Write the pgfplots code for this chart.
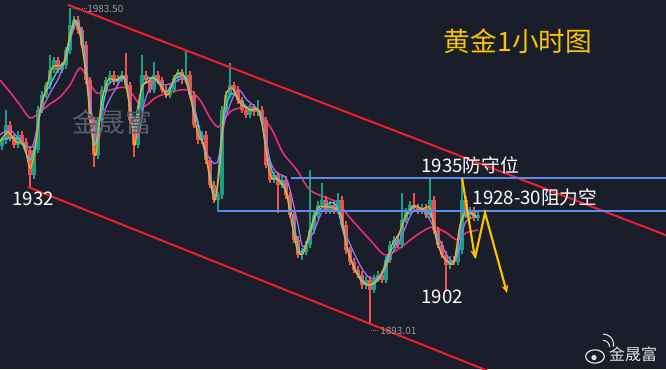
\documentclass[border=0pt]{standalone}
\usepackage{pgfplots}
\pgfplotsset{compat=1.18}
\usepackage{pgfplotstable}
\usepackage{fontspec}
\setmainfont{Noto Sans CJK SC}
\usetikzlibrary{arrows.meta}
\definecolor{bg}{RGB}{26,30,42}
\definecolor{cg}{RGB}{22,160,133}
\definecolor{cr}{RGB}{235,80,85}
\definecolor{maO}{RGB}{245,166,35}
\definecolor{maC}{RGB}{40,205,232}
\definecolor{maP}{RGB}{160,110,230}
\definecolor{maK}{RGB}{235,45,120}
\definecolor{chan}{RGB}{240,30,45}
\definecolor{lvl}{RGB}{90,140,240}
\definecolor{yel}{RGB}{250,195,0}
\definecolor{wm}{RGB}{88,92,102}

\pgfplotstableread{
x o h l c
2 1944.0 1946.8 1943.0 1945.8
6 1945.8 1954.4 1944.8 1950.1
18 1944.4 1948.3 1943.4 1947.3
34 1935.8 1944.0 1934.8 1943.0
38 1943.0 1955.4 1942.0 1954.4
42 1954.4 1959.7 1953.4 1958.7
46 1958.7 1962.5 1957.7 1961.5
50 1961.5 1970.1 1960.5 1965.8
54 1965.8 1969.6 1964.8 1968.6
62 1965.8 1968.2 1964.8 1967.2
66 1967.2 1972.5 1966.2 1971.5
70 1971.5 1983.5 1970.5 1978.6
74 1978.6 1981.1 1977.6 1980.1
98 1941.5 1952.5 1940.5 1951.5
102 1951.5 1961.1 1950.5 1960.1
106 1960.1 1963.9 1959.1 1962.9
110 1962.9 1965.4 1961.9 1964.4
118 1962.4 1964.5 1961.4 1963.5
122 1963.5 1965.4 1962.5 1964.4
138 1944.4 1955.4 1943.4 1954.4
142 1954.4 1970.1 1953.4 1964.4
154 1960.1 1968.1 1959.1 1964.4
170 1958.7 1961.1 1957.7 1960.1
174 1960.1 1964.5 1959.1 1963.5
178 1963.5 1966.2 1962.5 1965.2
186 1962.9 1971.5 1961.9 1964.4
202 1945.8 1948.3 1944.8 1947.3
218 1928.7 1931.1 1925.3 1930.1
222 1930.1 1955.4 1929.1 1954.4
226 1954.4 1959.7 1953.4 1958.7
230 1958.7 1967.8 1957.7 1961.5
250 1953.0 1956.0 1952.0 1955.0
258 1953.8 1957.2 1952.8 1954.4
274 1934.4 1936.8 1933.4 1935.8
282 1933.0 1935.4 1932.0 1934.4
302 1913.0 1914.9 1911.6 1913.9
306 1913.9 1916.9 1912.9 1915.9
310 1915.9 1937.2 1914.9 1920.1
314 1920.1 1925.4 1919.1 1924.4
318 1924.4 1928.3 1923.4 1927.3
322 1927.3 1933.6 1926.3 1928.7
330 1925.8 1928.3 1924.8 1927.3
338 1925.8 1930.7 1924.8 1928.7
366 1904.4 1906.9 1903.4 1905.9
374 1903.0 1907.4 1902.0 1906.4
378 1906.4 1908.3 1905.4 1907.3
386 1905.9 1912.6 1904.9 1911.6
390 1911.6 1916.9 1910.6 1915.9
394 1915.9 1918.3 1914.9 1917.3
402 1915.9 1930.7 1914.9 1923.0
406 1923.0 1926.3 1922.0 1925.3
410 1925.3 1928.3 1924.3 1927.3
422 1925.8 1927.4 1924.8 1926.4
430 1924.4 1935.0 1923.4 1928.7
450 1910.1 1912.6 1909.1 1911.6
458 1911.0 1915.4 1910.0 1914.4
462 1914.4 1935.0 1913.4 1928.7
470 1924.4 1926.8 1923.4 1925.8
478 1923.6 1925.4 1922.6 1924.4
}\up

\pgfplotstableread{
x o h l c
10 1950.1 1951.1 1945.4 1946.4
14 1946.4 1947.4 1943.4 1944.4
22 1947.3 1948.3 1944.3 1945.3
26 1945.3 1946.3 1942.0 1943.0
30 1943.0 1944.0 1932.4 1935.8
58 1968.6 1969.6 1964.8 1965.8
78 1980.1 1981.1 1976.2 1977.2
82 1977.2 1978.2 1972.0 1973.0
86 1973.0 1974.0 1961.9 1962.9
90 1962.9 1963.9 1950.5 1951.5
94 1951.5 1952.5 1938.1 1941.5
114 1964.4 1965.4 1961.4 1962.4
126 1964.4 1970.7 1960.5 1961.5
130 1961.5 1962.5 1950.5 1951.5
134 1951.5 1952.5 1941.0 1944.4
146 1964.4 1965.4 1961.9 1962.9
150 1962.9 1963.9 1959.1 1960.1
158 1964.4 1965.4 1961.9 1962.9
162 1962.9 1963.9 1959.1 1960.1
166 1960.1 1961.1 1957.7 1958.7
182 1965.2 1966.2 1961.9 1962.9
190 1964.4 1965.4 1957.7 1958.7
194 1958.7 1959.7 1949.1 1950.1
198 1950.1 1951.1 1944.8 1945.8
206 1947.3 1948.3 1939.1 1940.1
210 1940.1 1941.1 1932.0 1933.0
214 1933.0 1934.0 1927.7 1928.7
234 1961.5 1962.5 1959.1 1960.1
238 1960.1 1961.1 1956.2 1957.2
242 1957.2 1958.2 1953.4 1954.4
246 1954.4 1955.4 1952.0 1953.0
254 1955.0 1956.0 1952.8 1953.8
262 1954.4 1955.4 1950.5 1951.5
266 1951.5 1952.5 1937.7 1938.7
270 1938.7 1939.7 1933.4 1934.4
278 1935.8 1936.8 1925.0 1933.0
286 1934.4 1935.4 1929.1 1930.1
290 1930.1 1931.1 1923.4 1924.4
294 1924.4 1925.4 1916.3 1917.3
298 1917.3 1918.3 1912.0 1913.0
326 1928.7 1929.7 1924.8 1925.8
334 1927.3 1928.3 1924.8 1925.8
342 1928.7 1929.7 1920.6 1921.6
346 1921.6 1922.6 1913.4 1914.4
350 1914.4 1915.4 1910.0 1911.0
354 1911.0 1912.0 1907.7 1908.7
358 1908.7 1909.7 1906.3 1907.3
362 1907.3 1908.3 1903.4 1904.4
370 1905.9 1906.9 1893.0 1903.0
382 1907.3 1908.3 1904.9 1905.9
398 1917.3 1918.3 1914.9 1915.9
414 1927.3 1930.7 1925.4 1926.4
418 1926.4 1927.4 1924.8 1925.8
426 1926.4 1927.4 1923.4 1924.4
434 1928.7 1929.7 1919.1 1920.1
438 1920.1 1921.1 1914.9 1915.9
442 1915.9 1916.9 1912.0 1913.0
446 1913.0 1914.0 1903.0 1910.1
454 1911.6 1912.6 1910.0 1911.0
466 1928.7 1929.7 1923.4 1924.4
474 1925.8 1926.8 1922.6 1923.6
}\dn

\begin{document}
\begin{tikzpicture}
\fill[bg] (0,0) rectangle (499.5pt,276.75pt);
\begin{axis}[
  at={(0,0)}, anchor=south west,
  width=499.5pt, height=276.75pt, scale only axis,
  xmin=0, xmax=666, ymin=1880.43, ymax=1985.78,
  axis lines=none, ticks=none,
  axis background/.style={fill=bg},
  clip=true,
]
% pink long MA
\addplot[maK, line width=1.2pt, smooth, forget plot] coordinates {
(0,1962.9)(10,1959.5)(20,1955.8)(30,1952.1)(40,1953.8)(50,1956.1)(60,1958.1)
(70,1961.5)(80,1966.4)(88,1962.9)(97,1959.2)(110,1960.1)(127,1960.7)(142,1955.3)
(155,1957.8)(170,1959.5)(188,1960.1)(200,1957.2)(210,1952.1)(218,1949.5)(225,1952.1)
(233,1954.4)(250,1955.3)(260,1953.5)(272,1948.7)(283,1942.1)(297,1937.2)(310,1931.5)
(327,1929.3)(338,1927.8)(350,1923.6)(370,1917.3)(385,1913.0)(400,1915.0)(417,1918.7)
(432,1921.0)(445,1919.6)(457,1917.3)(466,1919.3)(478,1920.1)};
% candle wicks
\addplot[draw=none, forget plot, error bars/.cd, y dir=plus, y explicit, error mark=none,
  error bar style={draw=cg, line width=0.8pt}]
  table[x=x, y=l, y error plus expr=\thisrow{h}-\thisrow{l}] {\up};
\addplot[draw=none, forget plot, error bars/.cd, y dir=plus, y explicit, error mark=none,
  error bar style={draw=cr, line width=0.8pt}]
  table[x=x, y=l, y error plus expr=\thisrow{h}-\thisrow{l}] {\dn};
% candle bodies
\addplot[draw=none, forget plot, error bars/.cd, y dir=plus, y explicit, error mark=none,
  error bar style={draw=cg, line width=2.6pt}]
  table[x=x, y=o, y error plus expr=\thisrow{c}-\thisrow{o}] {\up};
\addplot[draw=none, forget plot, error bars/.cd, y dir=plus, y explicit, error mark=none,
  error bar style={draw=cr, line width=2.6pt}]
  table[x=x, y=c, y error plus expr=\thisrow{o}-\thisrow{c}] {\dn};
% purple MA
\addplot[maP, line width=1.0pt, smooth, forget plot] coordinates {
(0,1947.3)(10,1948.7)(20,1945.8)(32,1943.8)(40,1953.0)(50,1959.2)(60,1964.4)(70,1974.4)
(78,1979.2)(85,1970.1)(92,1953.0)(98,1945.8)(105,1954.4)(115,1960.1)(125,1962.9)
(137,1946.4)(145,1957.2)(155,1962.9)(165,1961.5)(175,1962.4)(185,1962.9)(195,1954.4)
(205,1943.0)(217,1939.3)(225,1951.5)(237,1960.1)(247,1957.2)(256,1955.0)(263,1951.5)
(270,1940.1)(277,1936.4)(287,1934.4)(297,1923.0)(303,1915.3)(313,1919.3)(323,1925.8)
(333,1926.7)(338,1925.8)(347,1918.1)(360,1910.1)(370,1906.4)(382,1907.3)(390,1912.4)
(400,1917.3)(412,1925.0)(422,1925.8)(430,1923.0)(438,1918.1)(450,1911.6)(457,1912.4)
(465,1922.1)(473,1923.6)};
% cyan MA
\addplot[maC, line width=1.0pt, smooth, forget plot] coordinates {
(0,1945.8)(10,1946.4)(20,1945.8)(30,1940.1)(36,1945.8)(42,1957.2)(50,1961.5)(58,1965.8)
(66,1968.6)(72,1977.2)(78,1979.5)(84,1971.5)(90,1954.4)(95,1944.4)(100,1951.5)(108,1961.5)
(118,1962.9)(126,1962.9)(133,1948.7)(140,1958.7)(148,1963.5)(158,1962.9)(166,1959.5)
(176,1963.5)(186,1963.5)(194,1954.4)(202,1945.8)(210,1935.8)(216,1930.1)(222,1948.7)
(230,1958.7)(240,1957.2)(250,1954.4)(260,1953.8)(266,1943.0)(274,1935.8)(284,1933.0)
(292,1924.4)(300,1913.9)(308,1917.3)(316,1924.4)(326,1927.3)(336,1927.3)(344,1918.7)
(352,1911.0)(362,1905.9)(370,1904.4)(380,1906.4)(388,1913.0)(396,1916.4)(404,1923.0)
(414,1926.7)(424,1925.8)(432,1923.6)(440,1914.4)(448,1911.0)(456,1912.4)(462,1923.0)
(470,1925.0)(477,1923.8)};
% orange MA
\addplot[maO, line width=1.0pt, smooth, forget plot] coordinates {
(0,1945.3)(8,1948.1)(16,1945.3)(24,1944.4)(30,1937.8)(35,1943.0)(40,1954.4)(46,1960.1)
(52,1966.4)(58,1967.0)(64,1968.1)(70,1975.8)(75,1980.1)(80,1975.8)(86,1964.4)(92,1947.3)
(96,1941.5)(101,1955.8)(108,1962.9)(116,1962.9)(124,1963.5)(131,1953.0)(135,1944.4)
(141,1960.1)(148,1962.4)(154,1963.5)(162,1960.7)(168,1958.7)(176,1964.4)(184,1964.1)
(191,1957.2)(198,1947.3)(204,1944.4)(210,1934.4)(215,1928.7)(220,1938.7)(225,1957.2)
(232,1960.7)(240,1956.4)(250,1954.4)(258,1954.4)(264,1947.3)(270,1935.8)(278,1934.4)
(286,1931.0)(292,1921.6)(298,1913.9)(304,1913.9)(310,1920.1)(318,1926.4)(326,1926.7)
(334,1926.4)(341,1924.4)(347,1915.0)(354,1909.3)(362,1905.3)(370,1904.4)(378,1906.4)
(386,1910.1)(392,1915.9)(400,1919.6)(406,1924.4)(414,1927.0)(422,1926.1)(430,1926.4)
(436,1917.8)(442,1913.0)(448,1911.0)(454,1911.0)(460,1921.6)(466,1925.8)(472,1924.7)
(477,1923.6)};
% channel lines
\addplot[chan, line width=1.5pt, forget plot] coordinates {(68,1984.4)(700,1914.9)};
\addplot[chan, line width=1.5pt, forget plot] coordinates {(28,1932.4)(500,1878.5)};
% level lines
\addplot[lvl, line width=1.3pt, forget plot] coordinates {(291,1935.0)(666,1935.0)};
\addplot[lvl, line width=1.3pt, forget plot] coordinates {(218,1925.5)(666,1925.5)};
% projected path
\addplot[yel, line width=1.6pt, -{Stealth[length=6pt,width=5pt]}, forget plot] coordinates {(462,1935.0)(475,1912.1)};
\addplot[yel, line width=1.6pt, -{Stealth[length=6pt,width=5pt]}, forget plot] coordinates {(475,1912.1)(485,1925.0)(507,1902.1)};
% texts
\node[text=wm, font=\fontsize{20pt}{22pt}\selectfont] at (axis cs:112,1950.9) {金晟富};
\node[text=yel, font=\fontsize{20pt}{22pt}\selectfont] at (axis cs:518,1974.1) {黄金1小时图};
\node[text=white, font=\fontsize{14pt}{16pt}\selectfont] at (axis cs:33,1929.0) {1932};
\node[text=white, font=\fontsize{14pt}{16pt}\selectfont] at (axis cs:470,1938.7) {1935防守位};
\node[text=white, font=\fontsize{14pt}{16pt}\selectfont] at (axis cs:535,1929.3) {1928-30阻力空};
\node[text=white, font=\fontsize{14pt}{16pt}\selectfont] at (axis cs:442,1901.0) {1902};
\draw[gray, densely dotted, line width=0.6pt] (axis cs:73,1983.3) -- (axis cs:86,1983.3);
\node[text=gray!80, anchor=west, inner sep=0pt, font=\fontsize{7.5pt}{8pt}\selectfont] at (axis cs:87,1983.2) {1983.50};
\draw[gray, densely dotted, line width=0.6pt] (axis cs:371,1891.5) -- (axis cs:379,1891.5);
\node[text=gray!80, anchor=west, inner sep=0pt, font=\fontsize{7.5pt}{8pt}\selectfont] at (axis cs:380,1891.3) {1893.01};
\node[text=white!88!black, font=\fontsize{12pt}{14pt}\selectfont] at (axis cs:633,1884.7) {金晟富};
\draw[white!88!black, line width=0.9pt] (axis cs:595,1884.0) ellipse [x radius=7pt, y radius=5pt];
\fill[white!88!black] (axis cs:594,1883.7) circle [radius=2pt];
\draw[white!88!black, line width=0.8pt] (axis cs:603,1888.6) arc [start angle=90, end angle=0, radius=5pt];
\draw[white!88!black, line width=0.8pt] (axis cs:603,1890.4) arc [start angle=90, end angle=-10, radius=8pt];
\end{axis}
\end{tikzpicture}
\end{document}
